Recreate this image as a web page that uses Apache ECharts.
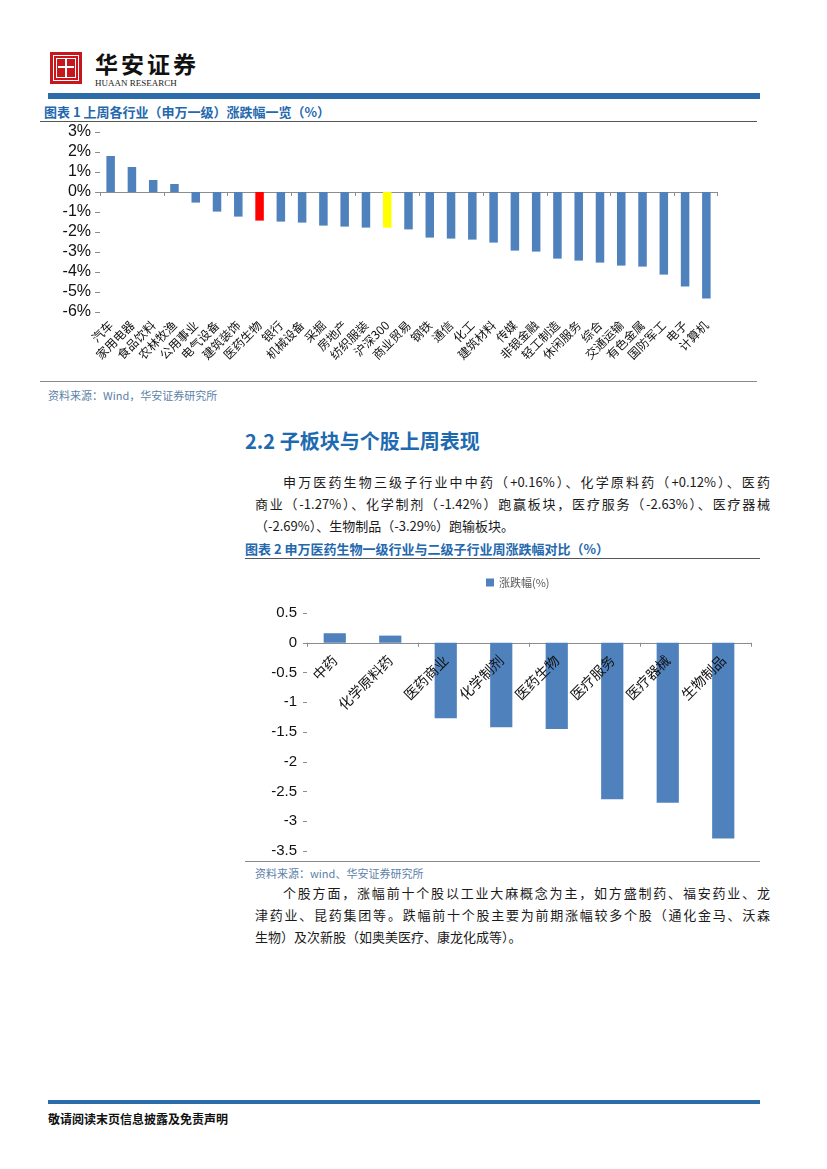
<!DOCTYPE html>
<html><head><meta charset="utf-8">
<script src="https://cdn.jsdelivr.net/npm/echarts@6/dist/echarts.min.js"></script>
<style>
html,body{margin:0;padding:0;background:#fff;}
body{width:827px;height:1169px;position:relative;overflow:hidden;font-family:"Noto Sans CJK SC","Noto Sans",sans-serif;color:#111;}
.abs{position:absolute;}
.ttl{font-size:13px;font-weight:bold;color:#2468AE;white-space:nowrap;}
.src{font-size:11px;color:#5B7FA8;white-space:nowrap;}
.ln{position:absolute;height:0;}
.p{position:absolute;left:255px;width:515px;font-size:13px;line-height:22px;white-space:nowrap;color:#1a1a1a;}
.p div{text-align:justify;text-align-last:justify;}
.p div.last{text-align-last:left;}
</style></head>
<body>
<!-- header -->
<div class="abs" style="left:50px;top:52px;width:32px;height:32px;background:#C8161D;"></div>
<div class="abs" style="left:53px;top:55px;width:24px;height:24px;border:1px solid #fff;"></div>
<div class="abs" style="left:56px;top:58px;width:18px;height:18px;border:1.5px solid #fff;"></div>
<div class="abs" style="left:58px;top:66px;width:16px;height:2px;background:#fff;"></div>
<div class="abs" style="left:65px;top:58px;width:2px;height:20px;background:#fff;"></div>
<div class="abs" style="left:95px;top:46px;font-size:23px;letter-spacing:3px;font-weight:bold;color:#111;">华安证券</div>
<div class="abs" style="left:95px;top:78px;font-size:9px;font-family:'Liberation Serif',serif;color:#222;">HUAAN RESEARCH</div>
<div class="abs" style="left:48px;top:93px;width:712px;height:6px;background:#2C6CA8;"></div>

<!-- chart 1 -->
<div class="abs ttl" style="left:44px;top:102px;">图表 1 上周各行业（申万一级）涨跌幅一览（%）</div>
<div class="ln" style="left:40px;top:121px;width:717px;border-top:1.5px solid #555;"></div>
<div id="c1" class="abs" style="left:40px;top:122px;width:720px;height:258px;"></div>
<div class="ln" style="left:40px;top:381px;width:717px;border-top:1.5px solid #888;"></div>
<div class="abs src" style="left:48px;top:387px;">资料来源：Wind，华安证券研究所</div>

<!-- section -->
<div class="abs" style="left:245px;top:426px;font-size:20px;font-weight:bold;color:#1E6AB0;">2.2 子板块与个股上周表现</div>
<div class="p" style="top:471px;">
<div><span style="padding-left:28px"></span>申万医药生物三级子行业中中药（+0.16%）、化学原料药（+0.12%）、医药</div>
<div>商业（-1.27%）、化学制剂（-1.42%）跑赢板块，医疗服务（-2.63%）、医疗器械</div>
<div class="last">（-2.69%）、生物制品（-3.29%）跑输板块。</div>
</div>

<!-- chart 2 -->
<div class="abs ttl" style="left:245px;top:539px;">图表 2 申万医药生物一级行业与二级子行业周涨跌幅对比（%）</div>
<div class="ln" style="left:245px;top:558px;width:515px;border-top:1.5px solid #555;"></div>
<div id="c2" class="abs" style="left:245px;top:560px;width:515px;height:300px;"></div>
<div class="ln" style="left:245px;top:861px;width:515px;border-top:1.5px solid #888;"></div>
<div class="abs src" style="left:255px;top:865px;">资料来源：wind、华安证券研究所</div>

<div class="p" style="top:882px;">
<div><span style="padding-left:28px"></span>个股方面，涨幅前十个股以工业大麻概念为主，如方盛制药、福安药业、龙</div>
<div>津药业、昆药集团等。跌幅前十个股主要为前期涨幅较多个股（通化金马、沃森</div>
<div class="last">生物）及次新股（如奥美医疗、康龙化成等）。</div>
</div>

<!-- footer -->
<div class="abs" style="left:48px;top:1100px;width:712px;height:4px;background:#2C6CA8;"></div>
<div class="abs" style="left:48px;top:1110px;font-size:12px;font-weight:bold;color:#111;">敬请阅读末页信息披露及免责声明</div>

<script>
// ---- data ----
var industries = ['汽车','家用电器','食品饮料','农林牧渔','公用事业','电气设备','建筑装饰','医药生物','银行','机械设备','采掘','房地产','纺织服装','沪深300','商业贸易','钢铁','通信','化工','建筑材料','传媒','非银金融','轻工制造','休闲服务','综合','交通运输','有色金属','国防军工','电子','计算机'];
var industryChange = [1.80,1.25,0.60,0.40,-0.53,-0.98,-1.23,-1.43,-1.48,-1.53,-1.68,-1.73,-1.78,-1.78,-1.87,-2.28,-2.33,-2.38,-2.53,-2.93,-2.98,-3.33,-3.43,-3.53,-3.68,-3.73,-4.13,-4.73,-5.33];
var highlightRed = '医药生物';
var highlightYellow = '沪深300';

var subSectors = ['中药','化学原料药','医药商业','化学制剂','医药生物','医疗服务','医疗器械','生物制品'];
var subChange = [0.16,0.12,-1.27,-1.42,-1.45,-2.63,-2.69,-3.29];

var BLUE = '#4F81BD';

// ---- chart 1 ----
var c1 = echarts.init(document.getElementById('c1'));
c1.setOption({
  animation:false,
  grid:{left:60,top:10,width:617,height:180,outerBoundsMode:'none',containLabel:false},
  xAxis:[{
    type:'category',data:industries,
    axisLine:{onZero:true,lineStyle:{color:'#8c8c8c',width:1}},
    axisTick:{show:true,length:4,lineStyle:{color:'#8c8c8c'}},
    axisLabel:{show:false}
  },{
    type:'category',data:industries,position:'bottom',
    axisLine:{show:false,onZero:false},axisTick:{show:false},
    axisLabel:{interval:0,rotate:45,margin:11,fontSize:12,color:'#111',fontFamily:'Noto Sans CJK SC'}
  }],
  yAxis:{
    type:'value',min:-6,max:3,interval:1,
    axisLine:{show:false},
    axisTick:{show:true,length:5,lineStyle:{color:'#8c8c8c'}},
    splitLine:{show:false},
    axisLabel:{formatter:'{value}%',fontSize:16,color:'#111',fontFamily:'Liberation Sans, Arial',margin:9}
  },
  series:[{
    type:'bar',xAxisIndex:0,barWidth:'40%',
    data:industryChange.map(function(v,i){
      var c = industries[i]===highlightRed ? '#FF0000' : (industries[i]===highlightYellow ? '#FFFF00' : BLUE);
      return {value:v,itemStyle:{color:c}};
    })
  }]
});

// ---- chart 2 ----
var G2H = 238, Y2MIN = -3.5, Y2MAX = 0.5;
var zeroOffset = -G2H * (0 - Y2MIN) / (Y2MAX - Y2MIN);
var c2 = echarts.init(document.getElementById('c2'));
c2.setOption({
  animation:false,
  legend:{data:['涨跌幅(%)'],left:236,top:12,icon:'rect',itemWidth:8,itemHeight:8,itemGap:4,
    textStyle:{fontSize:11,color:'#595959',fontFamily:'Noto Sans CJK SC'}},
  grid:{left:62,top:53,width:444,height:G2H,outerBoundsMode:'none',containLabel:false},
  xAxis:[{
    type:'category',data:subSectors,
    axisLine:{onZero:true,lineStyle:{color:'#8c8c8c',width:1}},
    axisTick:{show:true,length:4,lineStyle:{color:'#8c8c8c'}},
    axisLabel:{show:false}
  },{
    type:'category',data:subSectors,position:'bottom',offset:zeroOffset,z:10,
    axisLine:{show:false,onZero:false},axisTick:{show:false},
    axisLabel:{interval:0,rotate:45,margin:15,fontSize:14,color:'#111',fontFamily:'Noto Sans CJK SC'}
  }],
  yAxis:{
    type:'value',min:Y2MIN,max:Y2MAX,interval:0.5,
    axisLine:{show:false},
    axisTick:{show:true,length:4,lineStyle:{color:'#8c8c8c'}},
    splitLine:{show:false},
    axisLabel:{fontSize:15,color:'#111',fontFamily:'Liberation Sans, Arial',margin:10}
  },
  series:[{name:'涨跌幅(%)',type:'bar',xAxisIndex:0,barWidth:'40%',itemStyle:{color:BLUE},data:subChange}]
});
</script>
</body></html>
